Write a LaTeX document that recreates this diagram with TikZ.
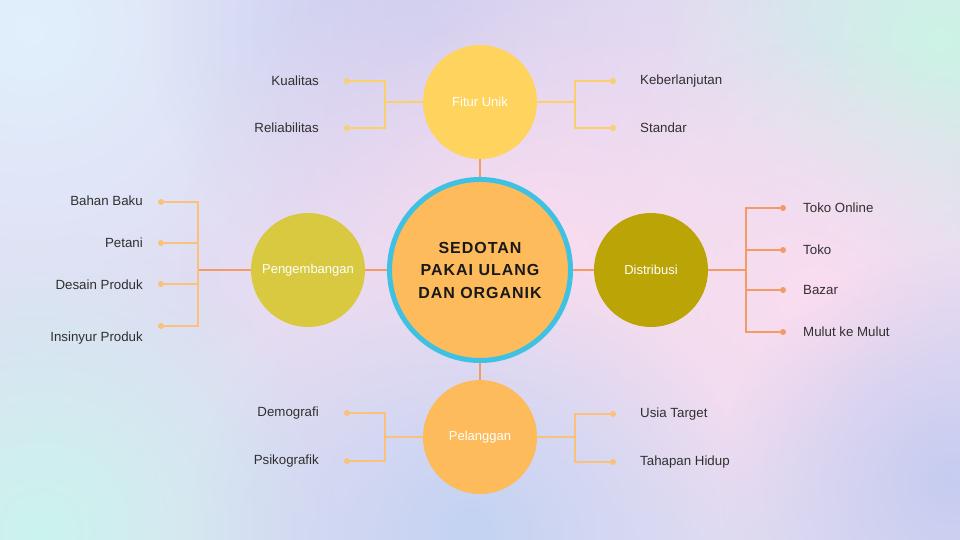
\documentclass[tikz,border=0pt]{standalone}
\usepackage{fontspec}
\setmainfont{Liberation Sans}
\newfontfamily\titlefont[LetterSpace=6]{Liberation Sans}
\usepackage{xcolor}
\usetikzlibrary{positioning}
\usetikzlibrary{fadings}

\definecolor{bgbase}{HTML}{E0DCF3}
\definecolor{bgsky}{HTML}{E0F0FC}
\definecolor{bglav}{HTML}{C6CCF0}
\definecolor{bgmint}{HTML}{CDF3E6}
\definecolor{bgpink}{HTML}{FBDCEF}
\definecolor{bgblue}{HTML}{C3D3F3}
\definecolor{bgcyan}{HTML}{CBF4EE}
\definecolor{hubfill}{HTML}{FDBB5C}
\definecolor{hubring}{HTML}{3EC1E2}
\definecolor{fiturfill}{HTML}{FED35E}
\definecolor{kembangfill}{HTML}{D8C940}
\definecolor{distfill}{HTML}{BBA406}
\definecolor{pelfill}{HTML}{FDBB5C}
\definecolor{mainorange}{HTML}{F39B66}
\definecolor{fituryellow}{HTML}{F9D06C}
\definecolor{softorange}{HTML}{F9C17A}
\definecolor{labelgray}{HTML}{303030}

\tikzfading[name=blob, inner color=transparent!0, outer color=transparent!100]

\begin{document}
\begin{tikzpicture}[x=1pt,y=-1pt,
    hub/.style={circle, fill=hubfill, draw=hubring, line width=5pt, minimum size=181pt, inner sep=0pt,
        align=center, text=black!90, font=\titlefont\bfseries\fontsize{16}{22.5}\selectfont},
    topic/.style={circle, minimum size=114pt, inner sep=0pt, text=white, font=\fontsize{13}{15}\selectfont},
    dot/.style={circle, inner sep=0pt, minimum size=6pt},
    leftlbl/.style={anchor=east, inner sep=0pt, text=labelgray, font=\fontsize{13.3}{15}\selectfont},
    rightlbl/.style={anchor=west, inner sep=0pt, text=labelgray, font=\fontsize{13.3}{15}\selectfont},
    mainline/.style={draw=mainorange, line width=2.3pt},
    branch/.style={line width=2.2pt}]
    \useasboundingbox (0,0) rectangle (960,540);

    % Background
    \begin{scope}
        \clip (0,0) rectangle (960,540);
        \fill[bgbase] (0,0) rectangle (960,540);
        \fill[bgsky, path fading=blob] (30,30) circle (320);
        \fill[bglav, path fading=blob] (430,30) circle (280);
        \fill[bgmint, path fading=blob] (940,40) circle (280);
        \fill[bgpink, path fading=blob] (540,260) circle (360);
        \fill[bgpink, path fading=blob] (820,300) circle (260);
        \fill[bgcyan, path fading=blob] (40,530) circle (300);
        \fill[bgblue, path fading=blob] (470,530) circle (280);
        \fill[bglav, path fading=blob] (950,480) circle (230);
    \end{scope}

    % Hub and topics
    \node[hub] (hub) at (480,270) {SEDOTAN\\PAKAI ULANG\\DAN ORGANIK};
    \node[topic, fill=fiturfill] (fitur) at (480,102) {Fitur Unik};
    \node[topic, fill=kembangfill] (kembang) at (308,270) {Pengembangan};
    \node[topic, fill=distfill] (dist) at (651,270) {Distribusi};
    \node[topic, fill=pelfill] (pel) at (480,437) {Pelanggan};

    % Hub to topics
    \draw[mainline] (hub) -- (fitur);
    \draw[mainline] (hub) -- (kembang);
    \draw[mainline] (hub) -- (dist);
    \draw[mainline] (hub) -- (pel);

    % Fitur Unik
    \coordinate (fiturL) at (385,102);
    \coordinate (fiturR) at (575,102);
    \draw[branch, fituryellow] (fitur) -- (fiturL);
    \draw[branch, fituryellow] (fitur) -- (fiturR);
    \foreach \name/\y/\txt in {kualitas/81/Kualitas, reliabilitas/128/Reliabilitas} {
        \node[dot, fill=fituryellow] (\name dot) at (347,\y) {};
        \node[leftlbl] (\name) at (319,\y) {\txt};
        \draw[branch, fituryellow] (fiturL) |- (\name dot);
    }
    \foreach \name/\y/\txt in {keberlanjutan/81/Keberlanjutan, standar/128/Standar} {
        \node[dot, fill=fituryellow] (\name dot) at (613,\y) {};
        \node[rightlbl] (\name) at (640,\y) {\txt};
        \draw[branch, fituryellow] (fiturR) |- (\name dot);
    }

    % Pengembangan
    \coordinate (kembangL) at (198,270);
    \draw[mainline] (kembang) -- (kembangL);
    \foreach \name/\y/\ly/\txt in {bahan/202/201/Bahan Baku, petani/243/243/Petani,
                                   desain/284/285/Desain Produk, insinyur/326/338/Insinyur Produk} {
        \node[dot, fill=softorange] (\name dot) at (161,\y) {};
        \node[leftlbl] (\name) at (143,\ly) {\txt};
        \draw[branch, softorange] (kembangL) |- (\name dot);
    }

    % Distribusi
    \coordinate (distR) at (746,270);
    \draw[mainline] (dist) -- (distR);
    \foreach \name/\y/\txt in {online/208/Toko Online, toko/250/Toko,
                               bazar/290/Bazar, mulut/332/Mulut ke Mulut} {
        \node[dot, fill=mainorange] (\name dot) at (783,\y) {};
        \node[rightlbl] (\name) at (803,\y) {\txt};
        \draw[branch, mainorange] (distR) |- (\name dot);
    }

    % Pelanggan
    \coordinate (pelL) at (385,437);
    \coordinate (pelR) at (575,437);
    \draw[branch, softorange] (pel) -- (pelL);
    \draw[branch, softorange] (pel) -- (pelR);
    \foreach \name/\y/\txt in {demografi/413/Demografi, psikografik/461/Psikografik} {
        \node[dot, fill=softorange] (\name dot) at (347,\y) {};
        \node[leftlbl] (\name) at (319,\y) {\txt};
        \draw[branch, softorange] (pelL) |- (\name dot);
    }
    \foreach \name/\y/\txt in {usia/414/Usia Target, tahapan/462/Tahapan Hidup} {
        \node[dot, fill=softorange] (\name dot) at (613,\y) {};
        \node[rightlbl] (\name) at (640,\y) {\txt};
        \draw[branch, softorange] (pelR) |- (\name dot);
    }
\end{tikzpicture}
\end{document}
